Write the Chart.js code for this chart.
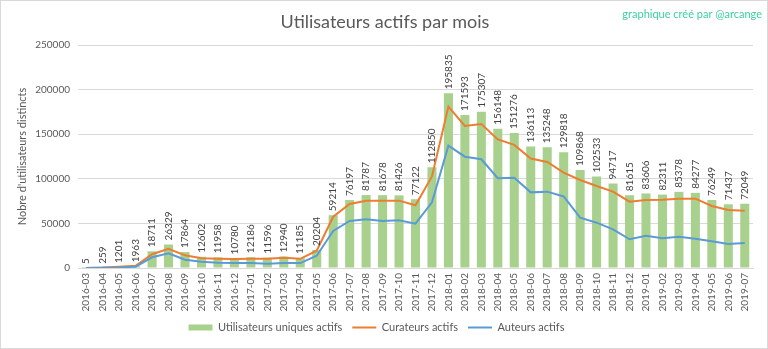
<!DOCTYPE html>
<html>
<head>
<meta charset="utf-8">
<script src="https://cdn.jsdelivr.net/npm/chart.js@4"></script>
<style>
  html, body { margin: 0; padding: 0; background: #fff; }
  #wrap { width: 768px; height: 349px; }
</style>
</head>
<body>
<div id="wrap"><canvas id="chart"></canvas></div>
<script>
const months = [
  '2016-03', '2016-04', '2016-05', '2016-06', '2016-07', '2016-08', '2016-09', '2016-10', '2016-11', '2016-12',
  '2017-01', '2017-02', '2017-03', '2017-04', '2017-05', '2017-06', '2017-07', '2017-08', '2017-09', '2017-10', '2017-11', '2017-12',
  '2018-01', '2018-02', '2018-03', '2018-04', '2018-05', '2018-06', '2018-07', '2018-08', '2018-09', '2018-10', '2018-11', '2018-12',
  '2019-01', '2019-02', '2019-03', '2019-04', '2019-05', '2019-06', '2019-07'
];

// unique active users (bars, values printed on the chart)
const uniqueUsers = [
  5, 259, 1201, 1963, 18711, 26329, 17864, 12602, 11958, 10780,
  12186, 11596, 12940, 11185, 20204, 59214, 76197, 81787, 81678, 81426, 77122, 112850,
  195835, 171593, 175307, 156148, 151276, 136113, 135248, 129818, 109868, 102533, 94717, 81615,
  83606, 82311, 85378, 84277, 76249, 71437, 72049
];

// curators (orange line)
const curators = [
  0, 500, 1500, 2500, 15500, 21500, 14200, 10900, 10500, 10000,
  10500, 10500, 11600, 10300, 19400, 57500, 71700, 75500, 75500, 75500, 70300, 102700,
  180900, 159200, 161400, 144200, 138000, 122700, 118800, 106900, 98700, 91900, 85600, 74300,
  76200, 76600, 77700, 77700, 69500, 65000, 64300
];

// authors (blue line)
const authors = [
  0, 200, 500, 1500, 12000, 16500, 9300, 7000, 5900, 5600,
  5600, 4800, 5500, 5500, 13800, 41500, 52700, 54600, 52700, 53500, 49700, 73600,
  137100, 124800, 121900, 100600, 101300, 84800, 85600, 80200, 56400, 50800, 43400, 32200,
  36200, 33300, 35100, 32900, 29900, 27000, 28100
];

const yTicks = [0, 50000, 100000, 150000, 200000, 250000];

const textColor = '#595959';
const fontFamily = 'Lato, "Liberation Sans", sans-serif';

// values above the bars, written bottom to top like Excel does
const barLabels = {
  id: 'barLabels',
  afterDatasetsDraw(chart) {
    const ctx = chart.ctx;
    const meta = chart.getDatasetMeta(0);
    ctx.save();
    ctx.font = '10px ' + fontFamily;
    ctx.fillStyle = '#404040';
    ctx.textAlign = 'left';
    ctx.textBaseline = 'middle';
    meta.data.forEach((bar, i) => {
      ctx.save();
      ctx.translate(bar.x, bar.y - 4);
      ctx.rotate(-Math.PI / 2);
      ctx.fillText(String(uniqueUsers[i]), 0, 0);
      ctx.restore();
    });
    ctx.restore();
  }
};

// title, credit in the corner + frame
const decor = {
  id: 'decor',
  afterDraw(chart) {
    const ctx = chart.ctx;
    ctx.save();
    ctx.textBaseline = 'middle';
    ctx.font = '18px ' + fontFamily;
    ctx.fillStyle = textColor;
    ctx.textAlign = 'center';
    ctx.fillText('Utilisateurs actifs par mois', 385, 22);
    ctx.font = '11px ' + fontFamily;
    ctx.fillStyle = '#3ccf9f';
    ctx.textAlign = 'right';
    ctx.fillText('graphique créé par @arcange', 762, 14);
    ctx.strokeStyle = '#d9d9d9';
    ctx.lineWidth = 1;
    ctx.strokeRect(0.5, 0.5, chart.width - 1, chart.height - 1);
    ctx.restore();
  }
};

new Chart(document.getElementById('chart'), {
  type: 'bar',
  data: {
    labels: months,
    datasets: [
      {
        type: 'bar',
        label: 'Utilisateurs uniques actifs',
        data: uniqueUsers,
        backgroundColor: '#a9d18e',
        barPercentage: 0.55,
        categoryPercentage: 1,
        order: 3
      },
      {
        type: 'line',
        label: 'Curateurs actifs',
        data: curators,
        borderColor: '#ed7d31',
        backgroundColor: '#ed7d31',
        borderWidth: 2,
        pointRadius: 0,
        tension: 0,
        order: 2
      },
      {
        type: 'line',
        label: 'Auteurs actifs',
        data: authors,
        borderColor: '#5b9bd5',
        backgroundColor: '#5b9bd5',
        borderWidth: 2,
        pointRadius: 0,
        tension: 0,
        order: 1
      }
    ]
  },
  options: {
    responsive: true,
    maintainAspectRatio: false,
    animation: false,
    layout: { padding: { left: 0, right: 15, top: 45, bottom: 6 } },
    plugins: {
      title: { display: false },
      legend: {
        position: 'bottom',
        sort: (a, b) => a.datasetIndex - b.datasetIndex,
        labels: {
          color: textColor,
          font: { family: fontFamily, size: 11 },
          usePointStyle: true,
          pointStyleWidth: 24,
          boxHeight: 6,
          padding: 10,
          generateLabels(chart) {
            return chart.data.datasets.map((ds, i) => ({
              text: ds.label,
              datasetIndex: i,
              fillStyle: ds.type === 'bar' ? ds.backgroundColor : ds.borderColor,
              strokeStyle: ds.type === 'bar' ? ds.backgroundColor : ds.borderColor,
              lineWidth: ds.type === 'bar' ? 0 : 2,
              pointStyle: ds.type === 'bar' ? 'rect' : 'line',
              fontColor: textColor,
              hidden: false
            }));
          }
        }
      },
      tooltip: { enabled: false }
    },
    scales: {
      x: {
        grid: { display: false, drawTicks: false },
        border: { display: true, color: '#d9d9d9' },
        ticks: {
          color: textColor,
          font: { family: fontFamily, size: 10 },
          minRotation: 90,
          maxRotation: 90,
          autoSkip: false,
          padding: 5
        },
        afterFit(scale) { scale.height = 44; }
      },
      y: {
        min: 0,
        max: 250000,
        afterBuildTicks(scale) { scale.ticks = yTicks.map(v => ({ value: v })); },
        grid: { color: '#d9d9d9', drawTicks: false },
        border: { display: false },
        ticks: {
          color: textColor,
          font: { family: fontFamily, size: 10 },
          padding: 8,
          callback: v => String(v)
        },
        title: {
          display: true,
          text: "Nobre d'utilisateurs distincts",
          color: textColor,
          font: { family: fontFamily, size: 11 },
          padding: { top: 16, bottom: 0 }
        },
        afterFit(scale) { scale.width = 78; }
      }
    }
  },
  plugins: [barLabels, decor]
});
</script>
</body>
</html>
